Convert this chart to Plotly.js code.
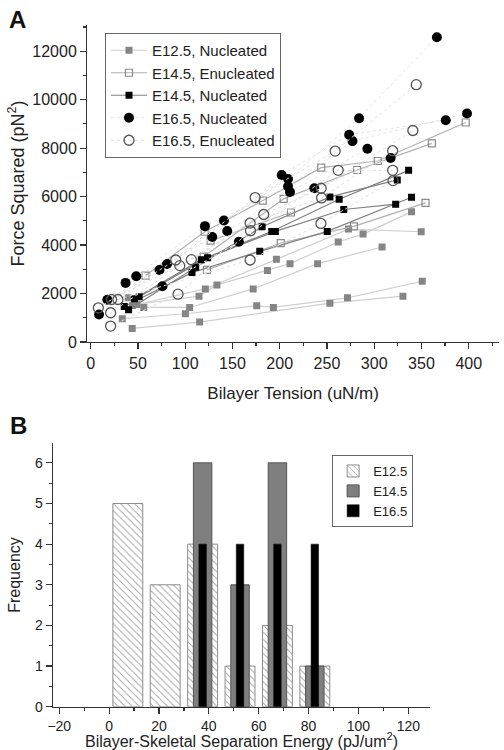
<!DOCTYPE html>
<html><head><meta charset="utf-8">
<script src="https://cdn.plot.ly/plotly-3.0.1.min.js"></script>
<style>html,body{margin:0;padding:0;background:#fff}#chart{width:504px;height:750px}</style>
</head><body><div id="chart"></div>
<script>
// ---------- Panel A: force squared vs bilayer tension (one cell per run, null separates cells)
const e125NucX = [43.9,115.3,253.1,330.4,null, 33.4,100.2,175.7,193.3,271.7,350.8,null, 39.7,56.2,104.7,171.9,240.1,308.3,null, 48.9,114.6,133.6,187.0,210.9,261.9,288.2,339.5,null, 44.3,121.3,196.5,272.8,349.7];
const e125NucY = [562,822,1603,1891,null, 959,1165,1493,1425,1822,2507,null, 1822,1425,1425,2192,3233,3918,null, 1548,1891,2356,2946,3233,4124,4453,5370,null, 1507,2192,3411,4658,4548];

const e145EnuX = [58.0,120.6,182.1,243.9,303.7,396.8,null, 123.0,201.1,278.4,354.3,null, 119.5,204.2,281.9,361.0,null, 126.9,211.9];
const e145EnuY = [2740,4548,5836,7193,7467,9056,null, 2973,4083,4768,5740,null, 3521,5905,7097,8193,null, 4179,5343];

const e145NucX = [40.1,111.1,181.4,253.1,324.4,null, 35.5,107.2,178.9,250.3,339.5,null, 46.4,117.0,191.6,262.9,336.4,null, 51.3,123.7,195.4,267.8,322.7];
const e145NucY = [1329,3083,4754,5987,6686,null, 1466,2863,3740,4562,5973,null, 1781,3398,4562,5891,7083,null, 1863,3480,4562,5466,5686];

const e165NucX = [8.8,72.8,141.0,208.8,284.0,366.3,null, 17.6,80.8,128.6,202.1,273.5,375.7,null, 36.9,120.9,208.8,277.0,398.2,null, 48.2,144.5,210.9,292.8,null, 75.9,156.8,236.6,317.4];
const e165NucY = [1137,2973,5014,6727,9234,12576,null, 1740,3220,4329,6891,8549,9152,null, 2439,4781,6415,8289,9426,null, 2713,4576,6192,7973,null, 2302,4137,6343,7590];

const e165EnuX = [8.1,90.0,174.0,258.7,344.5,null, 21.1,94.2,183.1,243.9,340.9,null, 22.1,106.5,168.7,244.3,319.5,null, 21.1,92.4,169.1,261.9,319.5,null, 28.8,168.7,243.6,319.9];
const e165EnuY = [1411,3384,5960,7878,10617,null, 1206,3151,5261,6343,8727,null, 1754,3398,4905,5946,7892,null, 658,1973,4590,7083,7083,null, 1754,3384,4891,6658];

// ---------- Panel B: histogram of separation energy
const binCenters = [7.5,22.5,37.5,52.5,67.5,82.5];
const e125Freq = [5,3,4,1,2,1];
const e145Centers = [37.5,52.5,67.5,82.5];
const e145Freq = [6,3,6,1];
const e165Centers = [37.5,52.5,67.5,82.5];
const e165Freq = [4,4,4,4];

const FONT = 'Liberation Sans, Arial, sans-serif';

const traces = [
  {x:e125NucX, y:e125NucY, name:'E12.5, Nucleated', mode:'lines+markers', connectgaps:false,
   line:{color:'#cfcfcf', width:1.2}, marker:{symbol:'square', size:7, color:'#858585', line:{width:0}}},
  {x:e145EnuX, y:e145EnuY, name:'E14.5, Enucleated', mode:'lines+markers', connectgaps:false,
   line:{color:'#b0b0b0', width:1.2}, marker:{symbol:'square-open', size:7, color:'#8a8a8a', line:{width:1.2}}},
  {x:e145NucX, y:e145NucY, name:'E14.5, Nucleated', mode:'lines+markers', connectgaps:false,
   line:{color:'#808080', width:1.2}, marker:{symbol:'square', size:7, color:'#000000', line:{width:0}}},
  {x:e165NucX, y:e165NucY, name:'E16.5, Nucleated', mode:'lines+markers', connectgaps:false,
   line:{color:'#e2e2e2', width:1, dash:'dot'}, marker:{symbol:'circle', size:10, color:'#000000', line:{width:0}}},
  {x:e165EnuX, y:e165EnuY, name:'E16.5, Enucleated', mode:'lines+markers', connectgaps:false,
   line:{color:'#dcdcdc', width:1, dash:'dot'}, marker:{symbol:'circle-open', size:10, color:'#555555', line:{width:1.3}}},
  {type:'bar', x:binCenters, y:e125Freq, name:'E12.5', xaxis:'x2', yaxis:'y2', legend:'legend2', width:12,
   marker:{color:'#ffffff', line:{color:'#8c8c8c', width:1}, pattern:{shape:'\\', fgcolor:'#a8a8a8', bgcolor:'#ffffff', size:5, solidity:0.2}}},
  {type:'bar', x:e145Centers, y:e145Freq, name:'E14.5', xaxis:'x2', yaxis:'y2', legend:'legend2', width:7.4,
   marker:{color:'#7f7f7f', line:{color:'#555555', width:1}}},
  {type:'bar', x:e165Centers, y:e165Freq, name:'E16.5', xaxis:'x2', yaxis:'y2', legend:'legend2', width:3,
   marker:{color:'#000000', line:{color:'#000000', width:0.5}}}
];

const axCommon = {showgrid:false, zeroline:false, showline:true, linecolor:'#333', linewidth:1.3,
  ticks:'outside', ticklen:6, tickwidth:1.2, tickcolor:'#333', tickformat:'d',
  tickfont:{family:FONT, size:16, color:'#222'}};

const layout = {
  width:504, height:750, margin:{l:0,r:0,t:0,b:0}, paper_bgcolor:'#fff', plot_bgcolor:'#fff',
  font:{family:FONT, color:'#222'}, barmode:'overlay', bargap:0,
  xaxis: Object.assign({}, axCommon, {domain:[0.1732,0.990], anchor:'y', range:[-3.6,432], dtick:50, tick0:0,
    minor:{ticks:'outside', ticklen:3, dtick:25, tickcolor:'#333'},
    title:{text:'Bilayer Tension (uN/m)', font:{family:FONT, size:17, color:'#222'}, standoff:16}}),
  yaxis: Object.assign({}, axCommon, {domain:[0.544,0.9667], anchor:'x', range:[0,13080], dtick:2000, tick0:0,
    minor:{ticks:'outside', ticklen:3, dtick:1000, tickcolor:'#333'},
    title:{text:'Force Squared (pN<sup>2</sup>)', font:{family:FONT, size:18, color:'#222'}, standoff:3}}),
  xaxis2: Object.assign({}, axCommon, {domain:[0.1052,0.8532], anchor:'y2', range:[-22.5,128.7], dtick:20, tick0:0,
    tickfont:{family:FONT, size:14, color:'#222'},
    minor:{ticks:'outside', ticklen:3, dtick:10, tickcolor:'#333'},
    title:{text:'Bilayer-Skeletal Separation Energy (pJ/um<sup>2</sup>)', font:{family:FONT, size:16, color:'#222'}, standoff:1}}),
  yaxis2: Object.assign({}, axCommon, {domain:[0.0577,0.4089], anchor:'x2', range:[0,6.48], dtick:1, tick0:0,
    tickfont:{family:FONT, size:14, color:'#222'},
    minor:{ticks:'outside', ticklen:3, dtick:0.5, tickcolor:'#333'},
    title:{text:'Frequency', font:{family:FONT, size:16, color:'#222'}, standoff:10}}),
  legend:{x:0.2083, y:0.956, xanchor:'left', yanchor:'top', bgcolor:'#fff', bordercolor:'#666', borderwidth:1,
    font:{family:FONT, size:15, color:'#222'}, tracegroupgap:0, itemwidth:36},
  legend2:{x:0.659, y:0.3933, xanchor:'left', yanchor:'top', bgcolor:'#fff', bordercolor:'#666', borderwidth:1,
    font:{family:FONT, size:13, color:'#222'}, tracegroupgap:0, itemwidth:30},
  annotations:[
    {text:'<b>A</b>', xref:'paper', yref:'paper', x:7/504, y:1-4/750, xanchor:'left', yanchor:'top', showarrow:false, font:{family:FONT, size:24, color:'#111'}},
    {text:'<b>B</b>', xref:'paper', yref:'paper', x:8/504, y:1-410/750, xanchor:'left', yanchor:'top', showarrow:false, font:{family:FONT, size:24, color:'#111'}}
  ]
};

Plotly.newPlot('chart', traces, layout, {staticPlot:true, displayModeBar:false});
</script>
</body></html>
